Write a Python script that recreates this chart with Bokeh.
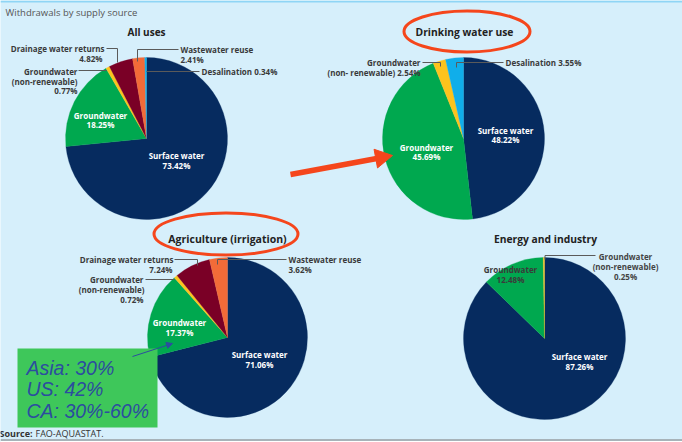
import numpy as np
from bokeh.plotting import figure
from bokeh.models import Range1d, ColumnDataSource, Arrow, NormalHead
from bokeh.core.properties import value
from bokeh.embed import file_html
from bokeh.resources import INLINE

W, H = 682, 442

sources = ["Surface water", "Groundwater", "Groundwater (non-renewable)",
           "Drainage water returns", "Wastewater reuse", "Desalination"]
colors = ["#062b5f", "#00a84f", "#fcc31d", "#7a0026", "#f26b38", "#10aeea"]

all_uses = [73.42, 18.25, 0.77, 4.82, 2.41, 0.34]
drinking = [48.22, 45.69, 2.54, 0.0, 0.0, 3.55]
agriculture = [71.06, 17.37, 0.72, 7.24, 3.62, 0.0]
energy = [87.26, 12.48, 0.25, 0.0, 0.0, 0.0]

titles = ["All uses", "Drinking water use", "Agriculture (irrigation)", "Energy and industry"]
box_lines = ["Asia: 30%", "US: 42%", "CA: 30%-60%"]

BG = "#d6effb"
RED = "#f5461c"
FONT = "Open Sans"

p = figure(width=W, height=H, x_range=Range1d(0, W), y_range=Range1d(0, H),
           output_backend="svg", toolbar_location=None, min_border=0,
           x_axis_type=None, y_axis_type=None,
           background_fill_color=BG, border_fill_color=BG, outline_line_color=None)


def Y(py):
    return H - py


def pct(v):
    return f"{v:.2f}%"


def pie(vals, cx, cy, r):
    v = np.array(vals, dtype=float)
    frac = v / v.sum()
    c = np.concatenate([[0.0], np.cumsum(frac)])
    start = np.pi / 2 - 2 * np.pi * c[1:]
    end = np.pi / 2 - 2 * np.pi * c[:-1]
    idx = [i for i in range(len(v)) if v[i] > 0]
    src = ColumnDataSource(dict(
        start=[start[i] for i in idx], end=[end[i] for i in idx],
        color=[colors[i] for i in idx], name=[sources[i] for i in idx]))
    p.wedge(x=cx, y=Y(cy), radius=r, start_angle="start", end_angle="end",
            fill_color="color", line_color="color", line_width=0.3, source=src)


def txt(x, y, s, size=8, color="#3a3a3a", align="left", style="bold", font=FONT):
    p.text(x=[x], y=[Y(y)], text=[s], text_font=value(font),
           text_font_size=f"{size}px", text_color=color, text_align=align,
           text_baseline="middle", text_font_style=style)


def lead(xs, ys):
    p.line(xs, [Y(v) for v in ys], line_color="#5a5a5a", line_width=1)


# frame bands
p.quad(left=0, right=W, top=Y(0), bottom=Y(2), fill_color="#8fd5f5", line_color=None)
p.quad(left=0, right=W, top=Y(438.5), bottom=Y(440.5), fill_color="#a7b3b9", line_color=None)
p.quad(left=0, right=W, top=Y(440.5), bottom=Y(442), fill_color="#ffffff", line_color=None)

txt(5, 12, "Withdrawals by supply source", size=9.5, color="#555555", style="normal")

# ---------- All uses ----------
pie(all_uses, 146, 138, 81)
txt(146, 31, titles[0], size=10, color="#222222", align="center")
txt(104, 48, sources[3], align="right")
txt(102, 58, pct(all_uses[3]), align="right")
lead([106, 117, 117], [48, 48, 62])
txt(180, 49, sources[4])
txt(180, 59, pct(all_uses[4]))
lead([178, 137, 137], [49, 49, 61])
txt(201, 71, f"{sources[5]} {pct(all_uses[5])}")
lead([199, 146], [71, 71])
txt(77, 71, "Groundwater", align="right")
txt(77, 81, "(non-renewable)", align="right")
txt(77, 90, pct(all_uses[2]), align="right")
lead([78, 106], [70, 70])
txt(100, 115, sources[1], color="white", align="center")
txt(100, 124, pct(all_uses[1]), color="white", align="center")
txt(176, 155, sources[0], color="white", align="center")
txt(176, 165, pct(all_uses[0]), color="white", align="center")

# ---------- Drinking water ----------
pie(drinking, 463, 138, 81)
txt(464, 31, titles[1], size=10.3, color="#222222", align="center")
txt(420, 62, "Groundwater", align="right")
txt(420, 72, f"(non- renewable) {pct(drinking[2])}", align="right")
lead([422, 440, 440], [62, 62, 66])
txt(505, 62, f"{sources[5]} {pct(drinking[5])}")
lead([503, 456, 456], [62, 62, 67])
txt(505, 130, sources[0], color="white", align="center")
txt(505, 139, pct(drinking[0]), color="white", align="center")
txt(426, 147, sources[1], color="white", align="center")
txt(426, 156, pct(drinking[1]), color="white", align="center")

# ---------- Agriculture ----------
pie(agriculture, 227, 337, 80)
txt(227, 238, titles[2], size=10.5, color="#222222", align="center")
txt(173, 259, sources[3], align="right")
txt(172, 269, pct(agriculture[3]), align="right")
lead([174, 197, 197], [259, 259, 265])
txt(288, 259, sources[4])
txt(288, 269, pct(agriculture[4]))
lead([286, 217, 217], [259, 259, 264])
txt(143, 279, "Groundwater", align="right")
txt(144, 289, "(non-renewable)", align="right")
txt(143, 299, pct(agriculture[2]), align="right")
lead([145, 174], [279, 279])
txt(179, 322, sources[1], color="white", align="center")
txt(179, 332, pct(agriculture[1]), color="white", align="center")
txt(259, 354, sources[0], color="white", align="center")
txt(259, 364, pct(agriculture[0]), color="white", align="center")

# ---------- Energy and industry ----------
pie(energy, 544, 338, 81)
txt(545, 238, titles[3], size=10.3, color="#222222", align="center")
txt(625, 256, "Groundwater", align="center", color="#444444")
txt(625, 266, "(non-renewable)", align="center", color="#444444")
txt(625, 276, pct(energy[2]), align="center", color="#444444")
lead([544.5, 544.5, 595], [259, 255, 255])
txt(510, 269, sources[1], align="center", color="#3a3a3a")
txt(510, 279, pct(energy[1]), align="center", color="#3a3a3a")
txt(579, 356, sources[0], color="white", align="center")
txt(579, 366, pct(energy[0]), color="white", align="center")

# ---------- Source ----------
txt(-1, 433, "Source:", size=9, color="#333333")
txt(35, 433, "FAO-AQUASTAT.", size=9, color="#333333", style="normal")

# ---------- Red annotations ----------
p.ellipse(x=[466.5], y=[Y(31)], width=[126], height=[41], fill_color=None,
          line_color=RED, line_width=3)
p.ellipse(x=[225.5], y=[Y(233.5)], width=[144], height=[42], fill_color=None,
          line_color=RED, line_width=3)

tail = np.array([290.0, 174.0])
tip = np.array([392.0, 155.0])
d = (tip - tail) / np.linalg.norm(tip - tail)
nrm = np.array([-d[1], d[0]])
base = tip - 17 * d
p.line([tail[0], base[0] + 1 * d[0]], [Y(tail[1]), Y(base[1] + 1 * d[1])],
       line_color=RED, line_width=5.5)
tri = [tip, base + 9.5 * nrm, base - 9.5 * nrm]
p.patch([t[0] for t in tri], [Y(t[1]) for t in tri], fill_color=RED, line_color=RED)

# ---------- Green box ----------
p.quad(left=17, right=157, top=Y(348), bottom=Y(427), fill_color="#3ec75a", line_color=None)
for i, s in enumerate(box_lines):
    p.text(x=[26], y=[Y(367 + 21.5 * i)], text=[s], text_font=value("Liberation Sans"),
           text_font_size="19.5px", text_color="#2c4d9f", text_font_style="italic",
           text_align="left", text_baseline="middle")
p.add_layout(Arrow(end=NormalHead(size=6, fill_color="#2c4d9f", line_color="#2c4d9f"),
                   x_start=132, y_start=Y(356), x_end=172, y_end=Y(343),
                   line_color="#2c4d9f", line_width=1))

open("out.html", "w").write(file_html(p, INLINE))
